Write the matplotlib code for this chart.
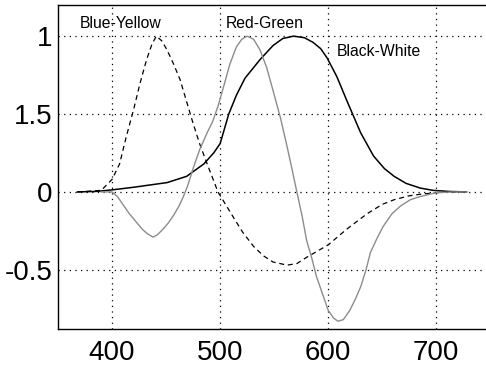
import matplotlib
matplotlib.use("Agg")
import matplotlib.pyplot as plt

plt.rcParams['font.family'] = ['Liberation Sans', 'DejaVu Sans']

# 黑白通道 (實線)
bw_x = [368, 385, 400, 420, 451, 469, 485, 494, 500, 508, 515, 523, 537, 549,
        558, 568, 578, 586, 593, 599, 608, 617, 630, 642, 652, 661, 672, 685, 697, 712, 728]
bw_y = [0.0, 0.003, 0.013, 0.03, 0.06, 0.10, 0.18, 0.25, 0.31, 0.50, 0.62, 0.73, 0.85, 0.94,
        0.985, 1.0, 0.99, 0.96, 0.92, 0.86, 0.74, 0.59, 0.38, 0.23, 0.15, 0.10, 0.055, 0.025, 0.01, 0.003, 0.0]

# 藍黃通道 (虛線)
by_x = [368, 390, 400, 407, 413, 420, 426, 432, 437, 441, 446, 451, 457, 463, 469, 475, 481,
        488, 498, 505, 512, 521, 531, 540, 549, 562, 571, 580, 590, 600, 617, 636, 650, 661, 675,
        685, 700, 715, 728]
by_y = [0.0, 0.01, 0.08, 0.18, 0.35, 0.53, 0.70, 0.85, 0.95, 1.0, 0.97, 0.91, 0.82, 0.72, 0.58,
        0.44, 0.31, 0.18, 0.0, -0.08, -0.16, -0.26, -0.35, -0.41, -0.45, -0.47, -0.46, -0.42, -0.38,
        -0.34, -0.24, -0.14, -0.08, -0.05, -0.025, -0.015, -0.005, 0.0, 0.0]

# 紅綠通道 (灰線)
rg_x = [390, 400, 405, 410, 416, 422, 428, 433, 438, 442, 447, 452, 457, 462, 466, 470, 475, 481,
        488, 493, 498, 503, 509, 515, 520, 525, 531, 537, 543, 549, 556, 562, 567, 571, 576, 580,
        585, 589, 595, 600, 605, 609, 614, 620, 625, 630, 635, 639, 645, 651, 659, 667, 676, 685,
        700, 715, 728]
rg_y = [0.0, 0.0, -0.03, -0.08, -0.14, -0.19, -0.24, -0.27, -0.29, -0.275, -0.24, -0.20, -0.15,
        -0.09, -0.03, 0.04, 0.15, 0.27, 0.38, 0.45, 0.55, 0.67, 0.82, 0.93, 0.98, 1.0, 0.98, 0.91,
        0.80, 0.65, 0.47, 0.29, 0.13, 0.0, -0.16, -0.31, -0.43, -0.54, -0.66, -0.76, -0.81, -0.83,
        -0.82, -0.76, -0.69, -0.61, -0.50, -0.39, -0.30, -0.22, -0.14, -0.09, -0.05, -0.03, -0.005,
        0.0, 0.0]

x_ticks = [400, 500, 600, 700]
y_ticks = [1, 0.5, 0, -0.5]
y_labels = ['1', '1.5', '0', '-0.5']

fig = plt.figure(figsize=(4.86, 3.65), dpi=100)
ax = fig.add_axes([58/486, 36/365, 1 - 58/486, 324/365])

ax.plot(bw_x, bw_y, color='black', lw=1.1)
ax.plot(by_x, by_y, color='black', lw=0.9, ls=(0, (4, 3)))
ax.plot(rg_x, rg_y, color='#8c8c8c', lw=1.0)

ax.set_xlim(350, 746)
ax.set_ylim(-0.88, 1.2)
ax.set_xticks(x_ticks)
ax.set_yticks(y_ticks)
ax.set_yticklabels(y_labels)
ax.tick_params(length=0, labelsize=20, pad=4)
ax.tick_params(axis='x', pad=8)
ax.grid(True, color='black', ls=(0, (1, 3.5)), lw=0.9)
ax.spines['right'].set_visible(False)
for s in ['left', 'top', 'bottom']:
    ax.spines[s].set_linewidth(1.0)

ax.text(370, 1.08, 'Blue-Yellow', fontsize=11.3, va='center')
ax.text(505, 1.08, 'Red-Green', fontsize=11.3, va='center')
ax.text(608, 0.90, 'Black-White', fontsize=11.3, va='center')

fig.savefig('out.png', dpi=100)
